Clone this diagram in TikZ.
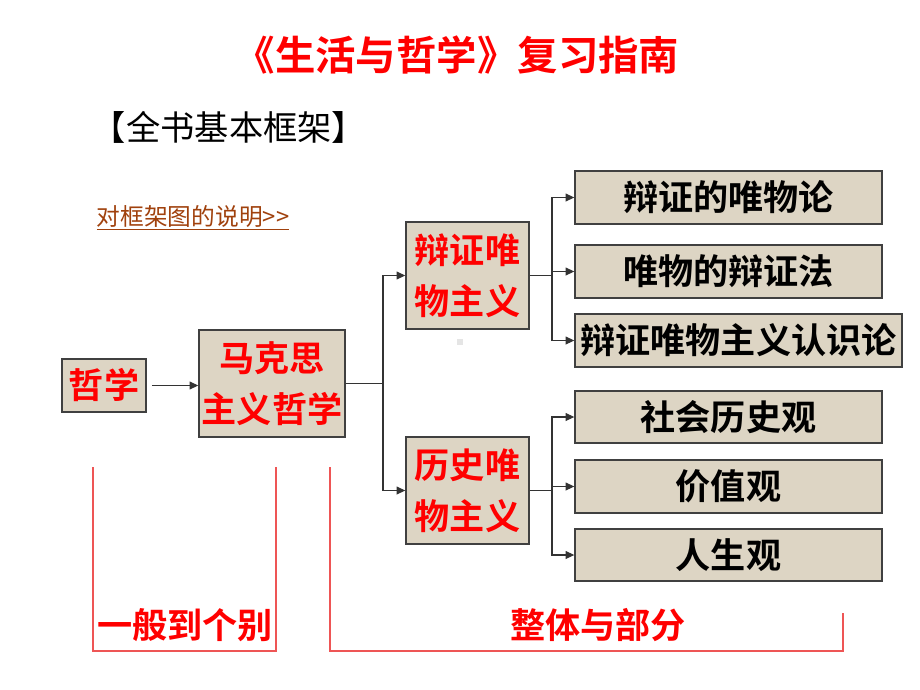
\documentclass[tikz,border=0pt]{standalone}
\usepackage{fontspec}
\setmainfont{Noto Sans CJK SC}[BoldFont={Noto Sans CJK SC Bold}]
\usetikzlibrary{arrows.meta}
\definecolor{boxfill}{HTML}{DDD5C4}
\definecolor{linkbrown}{HTML}{A0410D}
\definecolor{brk}{HTML}{EE5555}
\tikzset{
  kbox/.style={draw=black!75,line width=.8pt,fill=boxfill,inner sep=0pt,align=center,
    font=\fontsize{20pt}{29pt}\selectfont\bfseries},
  redtxt/.style={text=red},
  arr/.style={draw=black!80,line width=.6pt,-{Triangle[length=5pt,width=4.5pt]}},
  ln/.style={draw=black!80,line width=.6pt}
}
\begin{document}
\begin{tikzpicture}[x=0.02cm,y=-0.02cm]
    \useasboundingbox (0,0) rectangle (920,690);
    \node[text=red,font=\fontsize{23pt}{27pt}\selectfont\bfseries] (title) at (457,55) {《生活与哲学》复习指南};
    \node[font=\fontsize{19.5pt}{23pt}\selectfont] (sub) at (229,127) {【全书基本框架】};
    \node[text=linkbrown,font=\fontsize{13.5pt}{16pt}\selectfont] (link) at (193,218) {\underline{对框架图的说明>\kern0pt>}};
    \node[kbox,redtxt,minimum width=1.68cm,minimum height=1.06cm] (zx) at (104,385.5) {哲学};
    \node[kbox,redtxt,minimum width=2.92cm,minimum height=2.14cm] (mks) at (272,383.5) {马克思\\主义哲学};
    \node[kbox,redtxt,minimum width=2.46cm,minimum height=2.14cm] (bzw) at (467.5,275.5) {辩证唯\\物主义};
    \node[kbox,redtxt,minimum width=2.46cm,minimum height=2.14cm] (lsw) at (467.5,490.5) {历史唯\\物主义};
    \node[kbox,minimum width=6.14cm,minimum height=1.06cm] (wwl) at (728.5,197.5) {辩证的唯物论};
    \node[kbox,minimum width=6.14cm,minimum height=1.06cm] (bzf) at (728.5,271.5) {唯物的辩证法};
    \node[kbox,minimum width=6.54cm,minimum height=1.06cm] (rsl) at (738.5,340.5) {辩证唯物主义认识论};
    \node[kbox,minimum width=6.14cm,minimum height=1.04cm] (shg) at (728.5,417) {社会历史观};
    \node[kbox,minimum width=6.14cm,minimum height=1.06cm] (jzg) at (728.5,486.5) {价值观};
    \node[kbox,minimum width=6.14cm,minimum height=1.04cm] (rsg) at (728.5,555) {人生观};
    \fill[gray!20] (457,339) rectangle (463,345);
    \coordinate (t1) at (383,383.5);
    \coordinate (t2) at (552,275.5);
    \coordinate (t3) at (552,490.5);
    \draw[arr] ([xshift=3pt]zx.east) -- (zx.east -| mks.west);
    \draw[ln] (mks.east) -- (t1);
    \draw[arr] (t1) |- (bzw.west);
    \draw[arr] (t1) |- (lsw.west);
    \draw[ln] (bzw.east) -- (t2);
    \draw[arr] (t2) |- (wwl.west);
    \draw[arr] (t2) |- (bzf.west);
    \draw[arr] (t2) |- (rsl.west);
    \draw[ln] (lsw.east) -- (t3);
    \draw[arr] (t3) |- (shg.west);
    \draw[arr] (t3) |- (jzg.west);
    \draw[arr] (t3) |- (rsg.west);
    \draw[brk,line width=.7pt] (93,467)--(93,651)--(276,651)--(276,467);
    \draw[brk,line width=.7pt] (330,467)--(330,651)--(843,651)--(843,613);
    \node[text=red,font=\fontsize{20pt}{24pt}\selectfont\bfseries] (ybd) at (185,625) {一般到个别};
    \node[text=red,font=\fontsize{20pt}{24pt}\selectfont\bfseries] (ztb) at (598,625) {整体与部分};
\end{tikzpicture}
\end{document}
